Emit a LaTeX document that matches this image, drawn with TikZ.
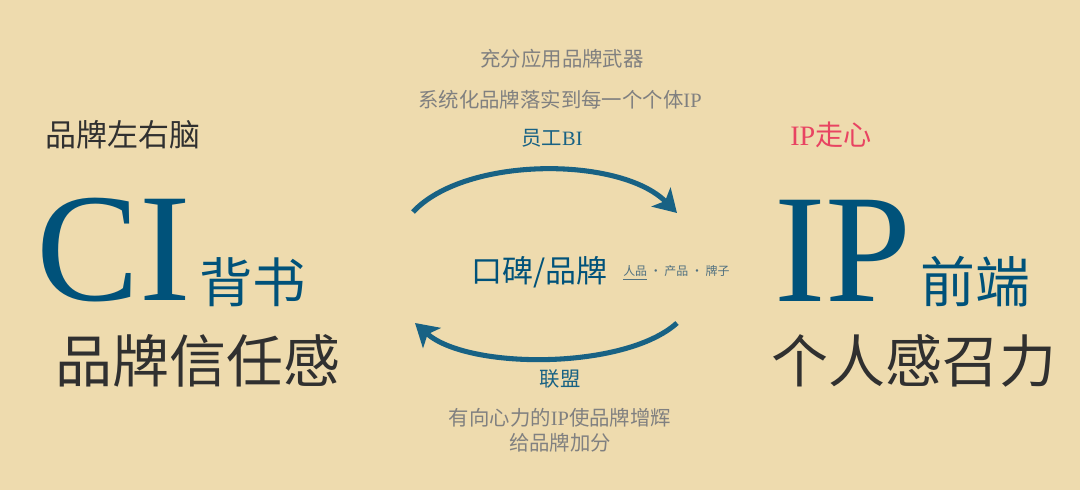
\documentclass[tikz,border=0pt]{standalone}
\usepackage{fontspec}
\setmainfont{Liberation Serif}
\newfontfamily\cjk{Noto Sans CJK SC}
\usetikzlibrary{arrows.meta, positioning}
\definecolor{parchment}{RGB}{238, 219, 174}
\definecolor{ciblue}{RGB}{0, 82, 122}
\definecolor{arrowblue}{RGB}{24, 98, 132}
\definecolor{inkgray}{RGB}{48, 48, 48}
\definecolor{notegray}{RGB}{128, 128, 128}
\definecolor{tagblue}{RGB}{80, 112, 128}
\definecolor{ipred}{RGB}{232, 68, 98}
\newcommand{\fsz}[1]{\fontsize{#1}{#1}\selectfont}

\begin{document}
\begin{tikzpicture}[x=0.025cm, y=-0.025cm,
  txt/.style={inner sep=0pt, anchor=base west},
  note/.style={inner sep=0pt, anchor=base, text=notegray, font={\cjk\fsz{14.5pt}}},
  flow/.style={line width=3.6pt, draw=arrowblue, -{Stealth[length=16pt, width=19pt, inset=4pt]}}]
  \useasboundingbox (0,0) rectangle (1080,490);
  \fill[parchment] (0,0) rectangle (1080,490);

  \node[txt, text=inkgray, font={\cjk\fsz{22pt}}] (brain) at (45,147) {品牌左右脑};
  \node[txt, text=ciblue, font={\fsz{110pt}}] (ci) at (36,301) {CI};
  \node[txt, text=ciblue, font={\cjk\fsz{38pt}}] (endorse) at (199,303) {背书};
  \node[txt, text=inkgray, font={\cjk\fsz{40.5pt}}] (trust) at (55,383) {品牌信任感};

  \node[txt, text=ipred, font={\fsz{20pt}}] (heart) at (790,146) {IP{\cjk 走心}};
  \node[txt, text=ciblue, font={\fsz{110pt}}] (ip) at (774,302) {IP};
  \node[txt, text=ciblue, font={\cjk\fsz{39pt}}] (front) at (920,303) {前端};
  \node[txt, text=inkgray, font={\cjk\fsz{40.5pt}}] (charisma) at (771,383) {个人感召力};

  \node[note] (weapon) at (562,67) {充分应用品牌武器};
  \node[note] (system) at (560,108) {系统化品牌落实到每一个个体{\rmfamily IP}};
  \node[note, text=arrowblue] (staff) at (552,146) {员工{\rmfamily BI}};

  \node[txt, text=ciblue, font={\cjk\fsz{22pt}}] (word) at (471,283) {口碑/品牌};
  \node[txt, text=tagblue, font={\cjk\fsz{8.5pt}}] (tags) at (623,276) {\underline{人品} • 产品 • 牌子};

  \node[note, text=arrowblue] (union) at (560,387) {联盟};
  \node[note] (shine) at (560,426) {有向心力的{\rmfamily IP}使品牌增辉};
  \node[note] (bonus) at (560,451) {给品牌加分};

  \coordinate (biS) at (413,212);
  \coordinate (biE) at (677,213);
  \coordinate (unS) at (677,323);
  \coordinate (unE) at (415,323);
  \draw[flow] (biS) .. controls (465,156) and (620,156) .. (biE);
  \draw[flow] (unS) .. controls (625,370) and (468,370) .. (unE);
\end{tikzpicture}
\end{document}
